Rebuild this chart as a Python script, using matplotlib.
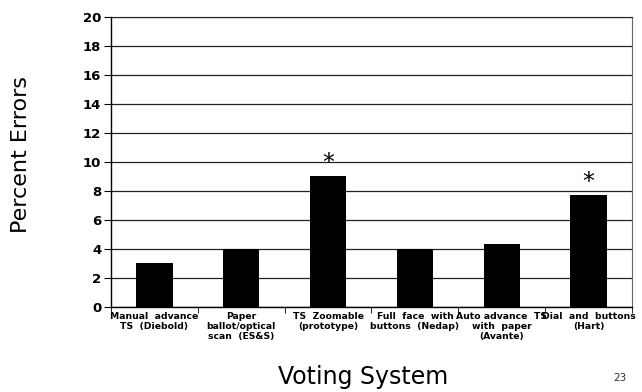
import matplotlib.pyplot as plt
import numpy as np

systems = [
    "Manual  advance\nTS  (Diebold)",
    "Paper\nballot/optical\nscan  (ES&S)",
    "TS  Zoomable\n(prototype)",
    "Full  face  with\nbuttons  (Nedap)",
    "Auto advance  TS\nwith  paper\n(Avante)",
    "Dial  and  buttons\n(Hart)",
]
percent_errors = [3.0, 4.0, 9.0, 4.0, 4.35, 7.7]
starred = [False, False, True, False, False, True]
y_ticks = [0, 2, 4, 6, 8, 10, 12, 14, 16, 18, 20]


def plot_errors():
    fig = plt.figure(figsize=(6.42, 3.92), dpi=100)
    ax = fig.add_axes([0.1729, 0.218, 0.8115, 0.7374])

    x = np.arange(len(systems))
    ax.bar(x, percent_errors, width=0.42, color='black', zorder=3)

    for xi, val, s in zip(x, percent_errors, starred):
        if s:
            ax.annotate('*', (xi, val), xytext=(0, 1), textcoords='offset points',
                        ha='center', va='bottom', fontsize=17, color='black')

    ax.set_xlim(-0.5, len(systems) - 0.5)
    ax.set_ylim(0, 20)
    ax.set_yticks(y_ticks)
    ax.set_yticklabels([str(t) for t in y_ticks], fontsize=9.5, fontweight='bold')
    ax.yaxis.grid(True, color='#222222', linewidth=0.9, zorder=0)

    ax.set_xticks(x)
    ax.set_xticklabels(systems, fontsize=6.7, fontweight='bold', linespacing=1.15)
    ax.tick_params(axis='x', which='major', length=0, pad=4)
    ax.set_xticks(np.arange(-0.5, len(systems)), minor=True)
    ax.tick_params(axis='x', which='minor', length=4, direction='out')
    ax.tick_params(axis='y', length=5, direction='out', pad=2)

    for side in ['left', 'bottom']:
        ax.spines[side].set_linewidth(1.0)
    ax.spines['right'].set_color('#666666')
    ax.spines['top'].set_color('#222222')

    fig.text(0.032, 0.605, 'Percent Errors', rotation=90, fontsize=16,
             ha='center', va='center')
    fig.text(0.565, 0.038, 'Voting System', fontsize=17, ha='center', va='center')
    fig.text(0.965, 0.035, '23', fontsize=7.5, color='#333333', ha='center', va='center')

    fig.savefig('out.png', dpi=100)


plot_errors()
